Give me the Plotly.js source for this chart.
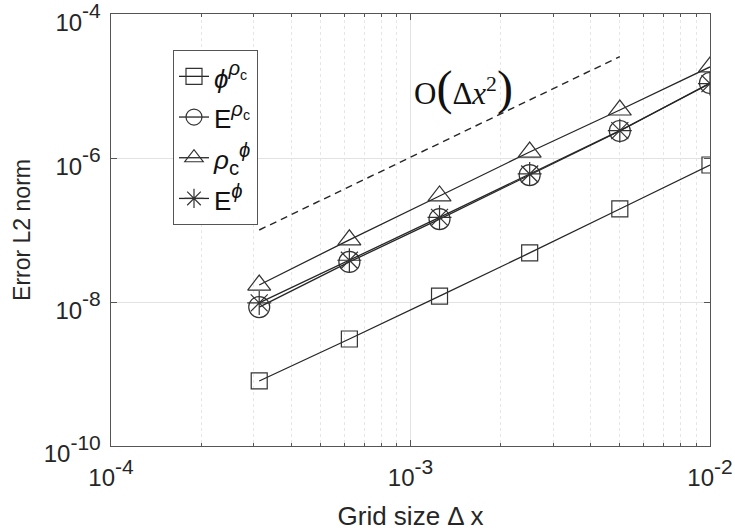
<!DOCTYPE html>
<html>
<head>
<meta charset="utf-8">
<script src="https://cdn.plot.ly/plotly-3.0.1.min.js"></script>
<style>html,body{margin:0;padding:0;background:#fff}#chart{width:735px;height:532px}</style>
</head>
<body>
<div id="chart"></div>
<script>
// Grid sizes
const gridSize = [3.125e-4, 6.25e-4, 1.25e-3, 2.5e-3, 5e-3, 1e-2];
// Error L2 norms
const phiRhoC = [8.0e-10, 3.06e-9, 1.21e-8, 4.8e-8, 1.96e-7, 8.0e-7];
const eRhoC   = [8.5e-9, 3.6e-8, 1.42e-7, 5.8e-7, 2.37e-6, 1.1e-5];
const rhoCPhi = [1.72e-8, 7.3e-8, 2.97e-7, 1.21e-6, 4.64e-6, 1.84e-5];
const ePhi    = [9.7e-9, 3.8e-8, 1.5e-7, 6.0e-7, 2.4e-6, 1.08e-5];
// Reference slope line O(dx^2)
const refX = [3.125e-4, 5e-3];
const refY = [1.0e-7, 2.56e-5];
// Labels
const big = (t) => "<span style='font-size:26px'>" + t + "</span>";
const seriesNames = [
  big("<i>ϕ</i>") + "<sup><i>ρ</i><sub>c</sub></sup>",
  big("E") + "<sup><i>ρ</i><sub>c</sub></sup>",
  big("<i>ρ</i>") + "<sub>c</sub><sup><i>ϕ</i></sup>",
  big("E") + "<sup><i>ϕ</i></sup>"
];
const ts = (t) => "<span style='font-size:24px'>10</span><sup>" + t + "</sup>";
const xTickVals = [1e-4, 1e-3, 1e-2];
const xTickText = [ts("-4"), ts("-3"), ts("-2")];
const yTickVals = [1e-10, 1e-8, 1e-6, 1e-4];
const yTickText = [ts("-10"), ts("-8"), ts("-6"), ts("-4")];
const slopeLabel = "O<span style='font-size:48px'>(</span>Δ<i>x</i><sup>2</sup><span style='font-size:48px'>)</span>";

const lineCol = '#262626';
function series(y, name, symbol, size) {
  return {
    x: gridSize, y: y, name: name, type: 'scatter', mode: 'lines+markers',
    line: {color: lineCol, width: 1.3},
    marker: {symbol: symbol, size: size, color: '#333', line: {color: '#333', width: 1.2}}
  };
}
const data = [
  series(phiRhoC, seriesNames[0], 'square-open', 16),
  series(eRhoC, seriesNames[1], 'circle-open', 21),
  series(rhoCPhi, seriesNames[2], 'triangle-up-open', 20),
  series(ePhi, seriesNames[3], 'asterisk-open', 20),
  {x: refX, y: refY, type: 'scatter', mode: 'lines', showlegend: false,
   line: {color: lineCol, width: 1.4, dash: '7px,5px'}}
];

const axisCommon = {
  type: 'log', showline: true, linecolor: '#555', linewidth: 1.2, mirror: 'ticks',
  ticks: 'inside', ticklen: 6, tickcolor: '#555', zeroline: false,
  showgrid: true, gridcolor: '#e2e2e2', gridwidth: 1,
  tickfont: {family: 'Liberation Sans, Arial, sans-serif', size: 30, color: '#262626'},
  tickmode: 'array', ticklabeloverflow: 'allow'
};
const layout = {
  width: 735, height: 532,
  margin: {l: 111, r: 25, t: 14, b: 86},
  paper_bgcolor: '#fff', plot_bgcolor: '#fff',
  font: {family: 'Liberation Sans, Arial, sans-serif', color: '#262626'},
  xaxis: Object.assign({}, axisCommon, {
    range: [-4.0001, -1.9999], tickvals: xTickVals, ticktext: xTickText,
    ticklabelstandoff: 3,
    minor: {tickmode: 'linear', dtick: 'D1', ticks: 'inside', ticklen: 3, tickcolor: '#555',
            showgrid: true, gridcolor: '#e6e6e6', griddash: 'dot', gridwidth: 1},
    title: {text: 'Grid size Δ x', font: {size: 26, color: '#262626'}, standoff: 16}
  }),
  yaxis: Object.assign({}, axisCommon, {
    range: [-10.0001, -3.9999], tickvals: yTickVals, ticktext: yTickText,
    ticklabelshift: 6, ticklabelstandoff: 3,
    title: {text: 'Error L2 norm', font: {size: 23, color: '#262626'}, standoff: 6}
  }),
  showlegend: true,
  legend: {
    x: 0.1035, y: 0.9167, xanchor: 'left', yanchor: 'top',
    bgcolor: '#fff', bordercolor: '#555', borderwidth: 1,
    font: {family: 'Liberation Sans, Arial, sans-serif', size: 29, color: '#111'},
    itemsizing: 'trace', tracegroupgap: 0
  },
  annotations: [{
    xref: 'paper', yref: 'paper', x: 0.502, y: 0.828, xanchor: 'left', yanchor: 'middle',
    text: slopeLabel, showarrow: false,
    font: {family: 'Liberation Serif, Times New Roman, serif', size: 31, color: '#111'}
  }]
};
Plotly.newPlot('chart', data, layout, {displayModeBar: false, staticPlot: true});
</script>
</body>
</html>
